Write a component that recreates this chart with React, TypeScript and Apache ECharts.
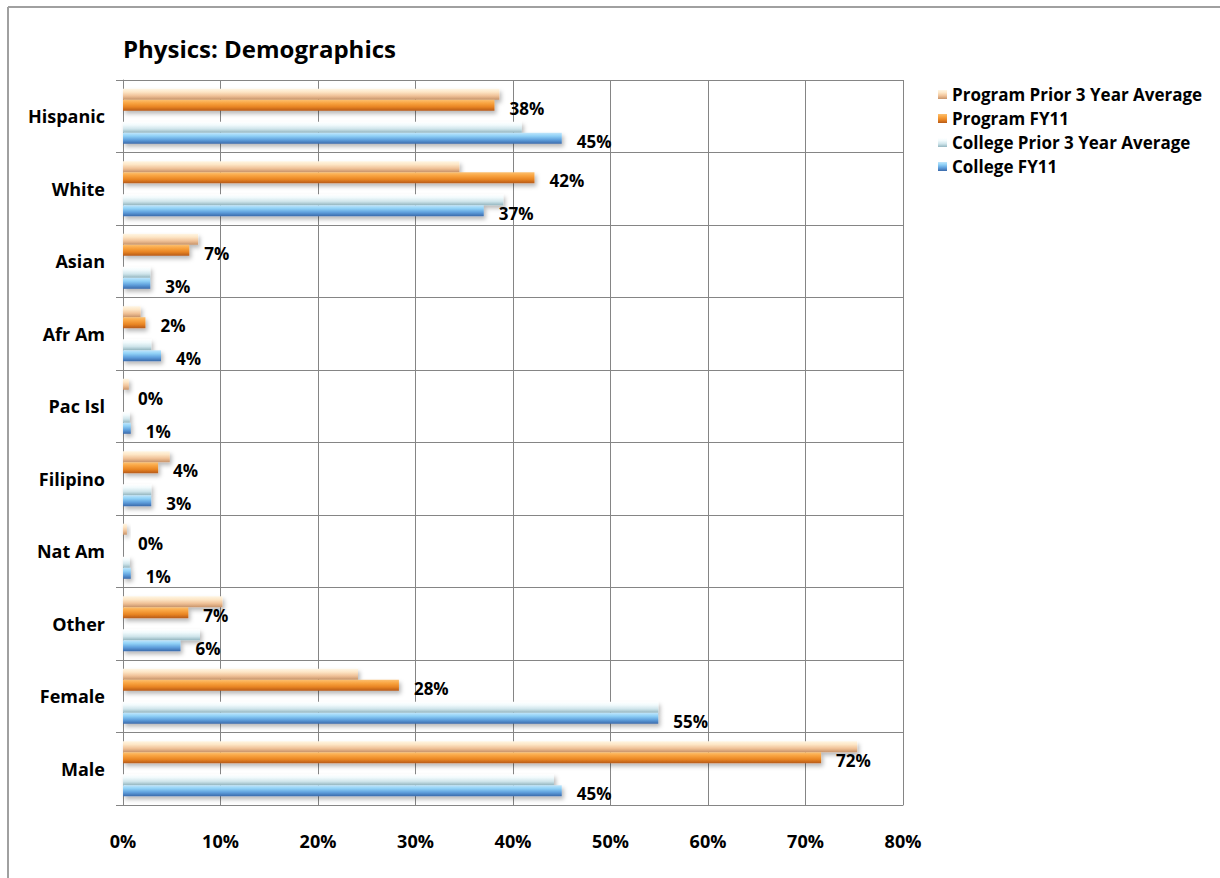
import React, { useEffect, useRef } from "react";
import * as echarts from "echarts";

const categories = ["Hispanic", "White", "Asian", "Afr Am", "Pac Isl", "Filipino", "Nat Am", "Other", "Female", "Male"];
const programPrior3 = [38.6, 34.5, 7.7, 1.8, 0.6, 4.8, 0.4, 10.2, 24.1, 75.3];
const programFY11 = [38.1, 42.2, 6.8, 2.3, 0, 3.6, 0, 6.7, 28.3, 71.6];
const collegePrior3 = [40.9, 39.0, 2.8, 2.9, 0.7, 2.9, 0.7, 7.9, 54.9, 44.2];
const collegeFY11 = [45.0, 37.0, 2.8, 3.9, 0.8, 2.9, 0.8, 5.9, 54.9, 45.0];
const seriesNames = ["Program Prior 3 Year Average", "Program FY11", "College Prior 3 Year Average", "College FY11"];
const xMin = 0;
const xMax = 80;
const xStep = 10;

const FONT = "'Open Sans', Lato, sans-serif";

function grad(stops: [number, string][]) {
  return new echarts.graphic.LinearGradient(0, 0, 0, 1, stops.map(([offset, color]) => ({ offset, color })));
}

const colors = [
  grad([[0, "#fff6e4"], [0.3, "#fde6c6"], [0.65, "#f0c298"], [1, "#c8946a"]]),
  grad([[0, "#fcc070"], [0.3, "#f9a542"], [0.65, "#e98523"], [1, "#b65a18"]]),
  grad([[0, "#ffffff"], [0.3, "#f1fafc"], [0.65, "#cfe5eb"], [1, "#94b6c0"]]),
  grad([[0, "#bfe6fc"], [0.3, "#8fd0f6"], [0.65, "#5f9fdc"], [1, "#3a69aa"]]),
];

const shadow = {
  shadowColor: "rgba(0,0,0,0.28)",
  shadowBlur: 4,
  shadowOffsetX: 2,
  shadowOffsetY: 3,
};

const labelStyle = {
  show: true,
  position: "right" as const,
  distance: 15,
  offset: [0, 3],
  fontFamily: FONT,
  fontWeight: "bold" as const,
  fontSize: 17,
  color: "#000",
  formatter: (p: any) => Math.round(p.value) + "%",
};

export default function App() {
  const ref = useRef<HTMLDivElement>(null);
  useEffect(() => {
    if (!ref.current) return;
    const chart = echarts.init(ref.current, undefined, { renderer: "svg" });
    const dataSets = [programPrior3, programFY11, collegePrior3, collegeFY11];
    const series: any[] = [];
    dataSets.forEach((d, i) => {
      if (i === 2) {
        series.push({
          name: "_gap",
          type: "bar",
          data: categories.map(() => null),
          barGap: "0%",
          barCategoryGap: "24%",
        });
      }
      series.push({
        name: seriesNames[i],
        type: "bar",
        data: d,
        barGap: "0%",
        barCategoryGap: "24%",
        itemStyle: { color: colors[i], ...shadow },
        label: i === 1 || i === 3 ? labelStyle : { show: false },
      });
    });

    chart.setOption({
      animation: false,
      backgroundColor: "#fff",
      textStyle: { fontFamily: FONT },
      title: {
        text: "Physics: Demographics",
        left: 118,
        top: 31,
        textStyle: { fontFamily: FONT, fontWeight: "bold", fontSize: 24, color: "#000" },
      },
      legend: {
        data: seriesNames,
        orient: "vertical",
        left: 933,
        top: 81,
        itemWidth: 9,
        itemHeight: 9,
        itemGap: 7,
        icon: "rect",
        textStyle: { fontFamily: FONT, fontWeight: "bold", fontSize: 17, color: "#000" },
      },
      grid: { left: 123, top: 80, width: 780, height: 725, containLabel: false },
      xAxis: {
        type: "value",
        min: xMin,
        max: xMax,
        interval: xStep,
        axisLine: { show: true, lineStyle: { color: "#858585", width: 1 } },
        axisTick: { show: false },
        splitLine: { show: true, lineStyle: { color: "#858585", width: 1 } },
        axisLabel: {
          formatter: "{value}%",
          margin: 27,
          fontFamily: FONT,
          fontWeight: "bold",
          fontSize: 18,
          color: "#000",
        },
      },
      yAxis: {
        type: "category",
        data: categories,
        inverse: true,
        axisLine: { show: true, lineStyle: { color: "#858585", width: 1 } },
        axisTick: { show: true, length: 7, lineStyle: { color: "#858585" } },
        splitLine: { show: true, lineStyle: { color: "#858585", width: 1 } },
        axisLabel: {
          margin: 18,
          fontFamily: FONT,
          fontWeight: "bold",
          fontSize: 18,
          color: "#000",
        },
      },
      graphic: [
        { type: "line", shape: { x1: 8, y1: 7, x2: 1220, y2: 7 }, style: { stroke: "#a0a0a0", lineWidth: 2 } },
        { type: "line", shape: { x1: 8, y1: 7, x2: 8, y2: 878 }, style: { stroke: "#a0a0a0", lineWidth: 2 } },
      ],
      series,
    });
    return () => chart.dispose();
  }, []);
  return <div ref={ref} style={{ position: "fixed", left: 0, top: 0, width: 1220, height: 878 }} />;
}
